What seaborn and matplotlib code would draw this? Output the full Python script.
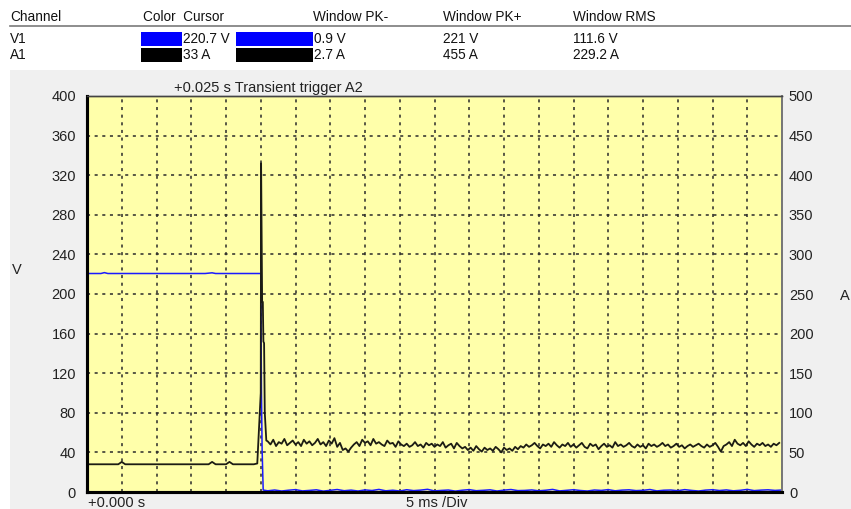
import numpy as np
import pandas as pd
import matplotlib
matplotlib.use("Agg")
import matplotlib.pyplot as plt
import seaborn as sns
from matplotlib.patches import Rectangle
from matplotlib.lines import Line2D

# ---- measurement summary table ----
header_cols = ["Channel", "Color  Cursor", "Window PK-", "Window PK+", "Window RMS"]
channels = ["V1", "A1"]
channel_colors = ["#0000FF", "#000000"]
cursor_vals = ["220.7 V", "33 A"]
pk_minus = ["0.9 V", "2.7 A"]
pk_plus = ["221 V", "455 A"]
rms_vals = ["111.6 V", "229.2 A"]

# ---- voltage trace V1 (time in ms, volts) ----
v_pre_t = [0, 2, 2.5, 3, 5, 8, 10, 13, 15, 17, 18, 18.5, 20, 22, 24, 25.0]
v_pre = [220.7, 220.7, 221.6, 220.7, 220.7, 220.7, 220.7, 220.7, 220.7, 220.7,
         221.4, 220.7, 220.7, 220.7, 220.7, 220.7]
v_step_t = [25.1, 25.2, 25.35]
v_step = [100.0, 42.0, 2.0]
v_post = [1.2, 2.0, 1.0, 1.8, 2.4, 1.1, 1.6, 2.2, 0.9, 1.7,
          2.5, 1.3, 1.9, 1.0, 2.1, 1.5, 2.6, 1.2, 1.8, 1.0,
          2.3, 1.4, 1.9, 2.7, 1.1, 1.6, 2.0, 0.9, 1.8, 2.4,
          1.3, 1.7, 2.2, 1.0, 1.9, 2.5, 1.4, 1.6, 2.1, 1.2,
          1.8, 2.6, 1.1, 1.7, 2.3, 1.5, 1.0, 2.0, 1.6, 2.4,
          1.2, 1.9, 2.2, 1.4, 1.7, 2.5, 1.1, 1.8, 2.0, 1.3,
          2.4, 1.6, 1.0, 1.9, 2.3, 1.5, 2.1, 1.2, 1.7, 2.6,
          1.4, 1.9, 2.2, 1.6, 2.0]

# ---- current trace A1 (time in ms, amps) ----
i_pre = [35, 35, 35, 35, 35, 35, 35, 35, 35, 35,
         38, 35, 35, 35, 35, 35, 35, 35, 35, 35,
         35, 35, 35, 35, 35, 35, 35, 35, 35, 35,
         35, 35, 35, 35, 35, 35, 38, 35, 35, 35,
         35, 38, 35, 35, 35, 35, 35, 35, 35, 36]
i_step_t = [25.0, 25.05, 25.12, 25.2, 25.3, 25.38, 25.48, 25.58, 25.8]
i_step = [125, 415, 330, 240, 240, 190, 188, 100, 65]
i_post = [64, 60, 66, 58, 63, 61, 67, 59, 62, 65,
          60, 63, 58, 66, 61, 64, 59, 62, 67, 60,
          63, 58, 65, 61, 68, 57, 62, 53, 55, 51,
          56, 60, 63, 58, 66, 62, 64, 59, 67, 61,
          63, 60, 58, 65, 61, 62, 57, 64, 60, 58,
          61, 57, 59, 63, 58, 60, 56, 62, 59, 61,
          57, 60, 58, 63, 56, 59, 61, 55, 62, 58,
          55, 57, 53, 56, 52, 58, 54, 51, 56, 53,
          55, 52, 57, 54, 50, 56, 53, 55, 52, 57,
          54, 58, 56, 60, 57, 59, 62, 58, 55, 60,
          58, 61, 57, 63, 59, 56, 60, 58, 62, 57,
          60, 56, 59, 62, 57, 55, 61, 58, 60, 54,
          58, 61, 57, 59, 56, 63, 58, 60, 57, 59,
          62, 58, 56, 60, 57, 59, 55, 61, 58, 60,
          57, 59, 62, 58, 60, 56, 58, 61, 57, 59,
          55, 58, 60, 57, 59, 61, 58, 56, 60, 57,
          59, 62, 57, 51, 58, 60, 63, 58, 66, 61,
          59, 62, 58, 64, 60, 57, 61, 59, 62, 58,
          60, 57, 61, 59, 62]

v_ticks = [0, 40, 80, 120, 160, 200, 240, 280, 320, 360, 400]
a_ticks = [0, 50, 100, 150, 200, 250, 300, 350, 400, 450, 500]

# sampling grids
v_post_t = list(26.0 + np.arange(len(v_post)) * 1.0)
i_pre_t = list(np.arange(len(i_pre)) * 0.5)
i_post_t = list(26.0 + np.arange(len(i_post)) * 0.4)

volt = pd.DataFrame({"t": v_pre_t + v_step_t + v_post_t,
                     "v": v_pre + v_step + v_post})
amp = pd.DataFrame({"t": i_pre_t + i_step_t + i_post_t,
                    "a": i_pre + i_step + i_post})

W, H = 851, 509
plt.rcParams["font.family"] = ["Liberation Sans", "DejaVu Sans"]
fig = plt.figure(figsize=(W / 100, H / 100), dpi=100)
fig.patch.set_facecolor("white")


def fx(x):
    return x / W


def fy(y):
    return 1 - y / H


# grey instrument panel behind the plot
fig.patches.append(Rectangle((fx(10), 0), fx(W - 10), fy(70), transform=fig.transFigure,
                             facecolor="#F0F0F0", edgecolor="none", zorder=-5))

# table header and rule
hx = [10, 143, 313, 443, 573]
for x, txt in zip(hx, header_cols):
    fig.text(fx(x), fy(17), txt, fontsize=9.8, va="center", ha="left", color="#111111")
fig.lines.append(Line2D([fx(10), fx(W)], [fy(26), fy(26)], transform=fig.transFigure,
                        color="#7a7a7a", lw=1.2, zorder=-4))

rows_y = [39, 55]
for ry, ch, col, cur, pkm, pkp, rms in zip(rows_y, channels, channel_colors, cursor_vals,
                                            pk_minus, pk_plus, rms_vals):
    fig.text(fx(10), fy(ry), ch, fontsize=9.8, va="center", ha="left", color="#111111")
    fig.patches.append(Rectangle((fx(141), fy(ry + 7)), fx(41), 14 / H, zorder=-4,
                                 transform=fig.transFigure, facecolor=col, edgecolor="none"))
    fig.patches.append(Rectangle((fx(236), fy(ry + 7)), fx(77), 14 / H, zorder=-4,
                                 transform=fig.transFigure, facecolor=col, edgecolor="none"))
    fig.text(fx(183), fy(ry), cur, fontsize=9.8, va="center", ha="left", color="#111111")
    fig.text(fx(314), fy(ry), pkm, fontsize=9.8, va="center", ha="left", color="#111111")
    fig.text(fx(443), fy(ry), pkp, fontsize=9.8, va="center", ha="left", color="#111111")
    fig.text(fx(573), fy(ry), rms, fontsize=9.8, va="center", ha="left", color="#111111")

# plot area
left, right, top, bottom = 87, 782, 96, 492
ax = fig.add_axes([fx(left), fy(bottom), fx(right - left), (bottom - top) / H])
ax.set_facecolor("#FFFFAA")
ax2 = ax.twinx()

sns.lineplot(data=amp, x="t", y="a", ax=ax2, color="#1c1c14", lw=1.3,
             estimator=None, sort=False)
sns.lineplot(data=volt, x="t", y="v", ax=ax, color="#1a1aff", lw=1.1,
             estimator=None, sort=False)

ax.set_xlim(0, 100)
ax.set_ylim(0, 400)
ax2.set_ylim(0, 500)
ax.set_xticks(np.arange(0, 101, 5))
ax.set_yticks(v_ticks)
ax2.set_yticks(a_ticks)
ax.set_xticklabels([])
ax.set_yticklabels([str(v) for v in v_ticks], fontsize=10.5, color="#222222")
ax2.set_yticklabels([str(a) for a in a_ticks], fontsize=10.5, color="#222222")
ax.tick_params(axis="both", length=0, pad=8)
ax2.tick_params(axis="y", length=0, pad=5)
ax.set_xlabel("")
ax.set_ylabel("")
ax2.set_ylabel("")

ax.grid(True, color="#2a2a2a", linestyle=(0, (2, 3)), lw=1.1)
ax.set_axisbelow(True)
ax2.grid(False)

for a in (ax, ax2):
    a.spines["left"].set_color("black")
    a.spines["left"].set_linewidth(2.2)
    a.spines["bottom"].set_color("black")
    a.spines["bottom"].set_linewidth(2.2)
    a.spines["top"].set_color("#444444")
    a.spines["top"].set_linewidth(1.0)
    a.spines["right"].set_color("#777777")
    a.spines["right"].set_linewidth(1.3)

fig.text(fx(268), fy(88), "+0.025 s Transient trigger A2", fontsize=10.5, ha="center",
         va="center", color="#222222")
fig.text(fx(88), fy(503), "+0.000 s", fontsize=10.5, ha="left", va="center", color="#222222")
fig.text(fx(437), fy(503), "5 ms /Div", fontsize=10.5, ha="center", va="center", color="#222222")
fig.text(fx(12), fy(270), "V", fontsize=10.5, ha="left", va="center", color="#222222")
fig.text(fx(840), fy(296), "A", fontsize=10.5, ha="left", va="center", color="#222222")

fig.savefig("out.png", dpi=100)
